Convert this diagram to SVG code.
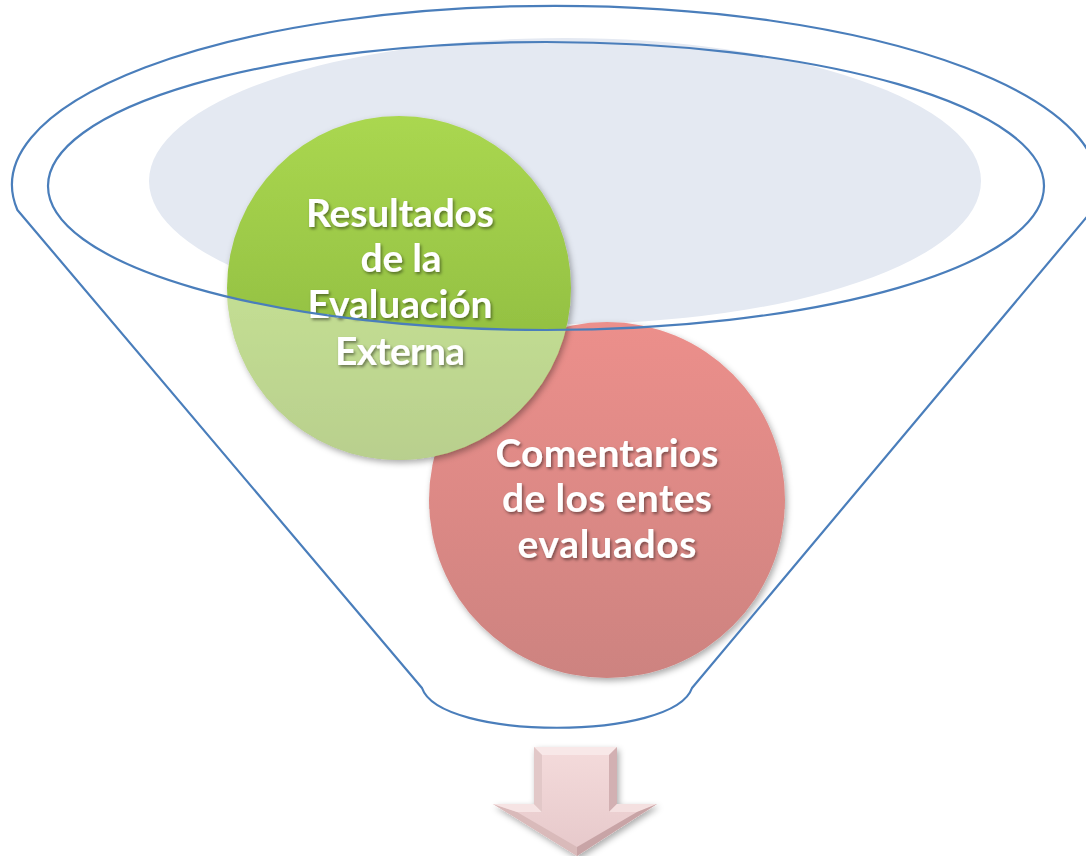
<svg xmlns="http://www.w3.org/2000/svg" width="1086" height="856" viewBox="0 0 1086 856">
<style>
.line{fill:none;stroke:#4a7ebb;stroke-width:2.2;stroke-linejoin:round}
.lbl{font-family:Lato,"Open Sans","Liberation Sans",sans-serif;font-weight:700;font-size:39px;fill:#ffffff;text-anchor:middle;filter:url(#tshadow)}
</style>
<defs>
<linearGradient id="gGreen" x1="0" y1="0" x2="0" y2="1">
<stop offset="0" stop-color="#aad750"/>
<stop offset="0.6" stop-color="#95c243"/>
<stop offset="1" stop-color="#86ad3c"/>
</linearGradient>
<linearGradient id="gRed" x1="0" y1="0" x2="0" y2="1">
<stop offset="0" stop-color="#ec8f8b"/>
<stop offset="1" stop-color="#cd8380"/>
</linearGradient>
<linearGradient id="gArrow" x1="0" y1="0" x2="0" y2="1">
<stop offset="0" stop-color="#f4dbdb"/>
<stop offset="1" stop-color="#e6c8ca"/>
</linearGradient>
<filter id="shadow" x="-20%" y="-20%" width="140%" height="140%">
<feDropShadow dx="2" dy="3" stdDeviation="3" flood-color="#000" flood-opacity="0.33"/>
</filter>
<filter id="tshadow" x="-10%" y="-30%" width="120%" height="160%">
<feDropShadow dx="1.5" dy="2" stdDeviation="1.5" flood-color="#000" flood-opacity="0.45"/>
</filter>
<clipPath id="below">
<path clip-rule="evenodd" d="M0 0H1086V856H0Z M48 186 A498 144 0 1 0 1044 186 A498 144 0 1 0 48 186Z"/>
</clipPath>
</defs>
<rect width="1086" height="856" fill="#ffffff"/>
<g id="funnel-fill">
<ellipse cx="565" cy="181" rx="416" ry="143" fill="#e4e9f2"/>
</g>
<g id="node-comentarios">
<circle cx="607" cy="500" r="178" fill="url(#gRed)" filter="url(#shadow)"/>
<text class="lbl" x="607" y="467" textLength="223" lengthAdjust="spacing">Comentarios</text>
<text class="lbl" x="607" y="512" textLength="210" lengthAdjust="spacing">de los entes</text>
<text class="lbl" x="607" y="558" textLength="179" lengthAdjust="spacing">evaluados</text>
</g>
<g id="node-resultados">
<circle cx="399" cy="288" r="172" fill="url(#gGreen)" filter="url(#shadow)"/>
<circle cx="399" cy="288" r="172" fill="#ffffff" fill-opacity="0.42" clip-path="url(#below)"/>
<text class="lbl" x="400" y="227" textLength="188" lengthAdjust="spacing">Resultados</text>
<text class="lbl" x="401" y="272" textLength="81" lengthAdjust="spacing">de la</text>
<text class="lbl" x="400" y="318" textLength="185" lengthAdjust="spacing">Evaluación</text>
<text class="lbl" x="400" y="365" textLength="130" lengthAdjust="spacing">Externa</text>
</g>
<g id="funnel">
<path class="line" d="M17.4 210 A543 179 0 1 1 1092.6 210 L692 688 C674 741 440 741 422 688 Z"/>
<ellipse class="line" cx="546" cy="186" rx="498" ry="144"/>
</g>
<g id="connectors">
<g id="arrow" filter="url(#shadow)">
<polygon points="534,747 617,747 617,804 657,804 577,856 493,804 534,804" fill="url(#gArrow)"/>
<polygon points="534,747 617,747 609,755 542,755" fill="#f8e8e8"/>
<polygon points="617,747 617,804 609,812 609,755" fill="#d2b0b2"/>
<polygon points="617,804 657,804 637,812 609,812" fill="#f4e0e0"/>
<polygon points="657,804 577,856 577,847 637,812" fill="#c8a4a6"/>
<polygon points="577,856 493,804 517,812 577,847" fill="#d9baba"/>
<polygon points="493,804 534,804 542,812 517,812" fill="#f6e4e4"/>
<polygon points="534,804 534,747 542,755 542,812" fill="#e2c8c8"/>
</g>
</g>
</svg>
